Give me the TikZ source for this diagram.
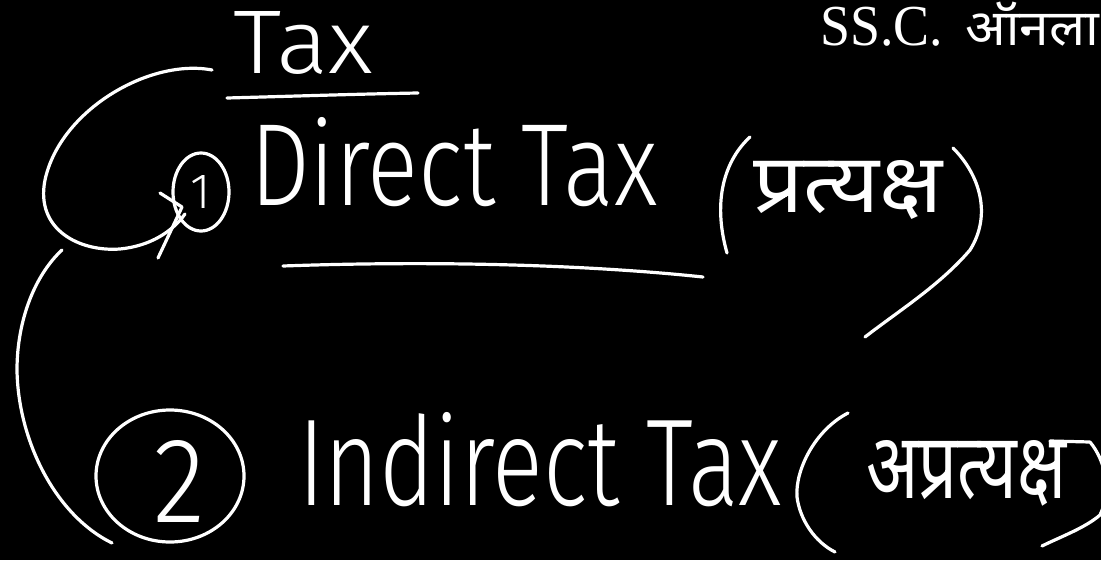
\documentclass[tikz,border=0pt]{standalone}
\usepackage{graphicx}
\usepackage{fontspec}
\setmainfont{Liberation Serif}
\newfontfamily\hand{Fira Sans Light}
\newfontfamily\deva[Script=Devanagari]{Noto Sans}
\usetikzlibrary{shapes.geometric}
\begin{document}
\begin{tikzpicture}[x=1pt,y=-1pt,
  ink/.style={draw=white, line width=3.2pt, line cap=round, line join=round},
  lbl/.style={text=white, inner sep=0pt, outer sep=0pt},
  ring/.style={ink, ellipse, inner sep=0pt, text=white}]
\fill[black] (0,0) rectangle (1101,560);
\useasboundingbox (0,0) rectangle (1101,560);
\clip (0,0) rectangle (1101,560);

% header
\node[lbl, anchor=base west] (hdr) at (820,45) {\resizebox{123pt}{\height}{\fontsize{58}{58}\selectfont SS.C.}};
\node[lbl, anchor=base west] (hdr2) at (965,45) {\resizebox{134pt}{\height}{\fontsize{50}{50}\selectfont\deva ऑनला}};

% Tax heading
\node[lbl, anchor=base west] (tax) at (233,73) {\resizebox{140pt}{62pt}{\hand Tax}};
\draw[ink] (227,98) .. controls (300,96) and (360,94) .. (418,93);

% bracket 1 with tip
\draw[ink] (212,70) .. controls (150,58) and (60,110) .. (45,180)
  .. controls (35,230) and (80,252) .. (120,249)
  .. controls (150,246) and (172,232) .. (185,214);
\draw[ink] (160,193) -- (182,207) -- (158,258);

% item 1
\node[ring, minimum width=56pt, minimum height=78pt] (c1) at (201,192)
  {\resizebox{!}{33pt}{\hand 1}};
\node[lbl, anchor=base west] (dt) at (250,205) {\resizebox{408pt}{88pt}{\hand Direct Tax}};
\draw[ink] (283,266) .. controls (450,260) and (600,266) .. (703,277);
\draw[ink] (750,137) .. controls (725,160) and (712,200) .. (727,253);
\node[lbl, anchor=base west] (h1) at (753,212) {\resizebox{190pt}{52pt}{\deva प्रत्यक्ष}};
\draw[ink] (953,148) .. controls (980,175) and (992,215) .. (970,250)
  .. controls (940,285) and (900,310) .. (865,337);

% bracket 2
\draw[ink] (62,250) .. controls (35,275) and (17,320) .. (17,370)
  .. controls (18,440) and (55,515) .. (112,543);

% item 2
\node[ring, minimum width=148pt, minimum height=132pt] (c2) at (170,476) {};
\node[lbl, anchor=base] (n2) at (180,522) {\resizebox{52pt}{82pt}{\hand 2}};
\node[lbl, anchor=base west] (it) at (298,505) {\resizebox{484pt}{93pt}{\hand Indirect Tax}};
\draw[ink] (848,413) .. controls (815,430) and (795,470) .. (797,497)
  .. controls (800,520) and (815,542) .. (835,552);
\node[lbl, anchor=base west] (h2) at (866,498) {\resizebox{200pt}{58pt}{\deva अप्रत्यक्ष}};
\draw[ink] (1050,441) -- (1090,442) .. controls (1105,460) and (1112,490) .. (1100,515)
  .. controls (1085,528) and (1060,537) .. (1042,546);
\end{tikzpicture}
\end{document}
